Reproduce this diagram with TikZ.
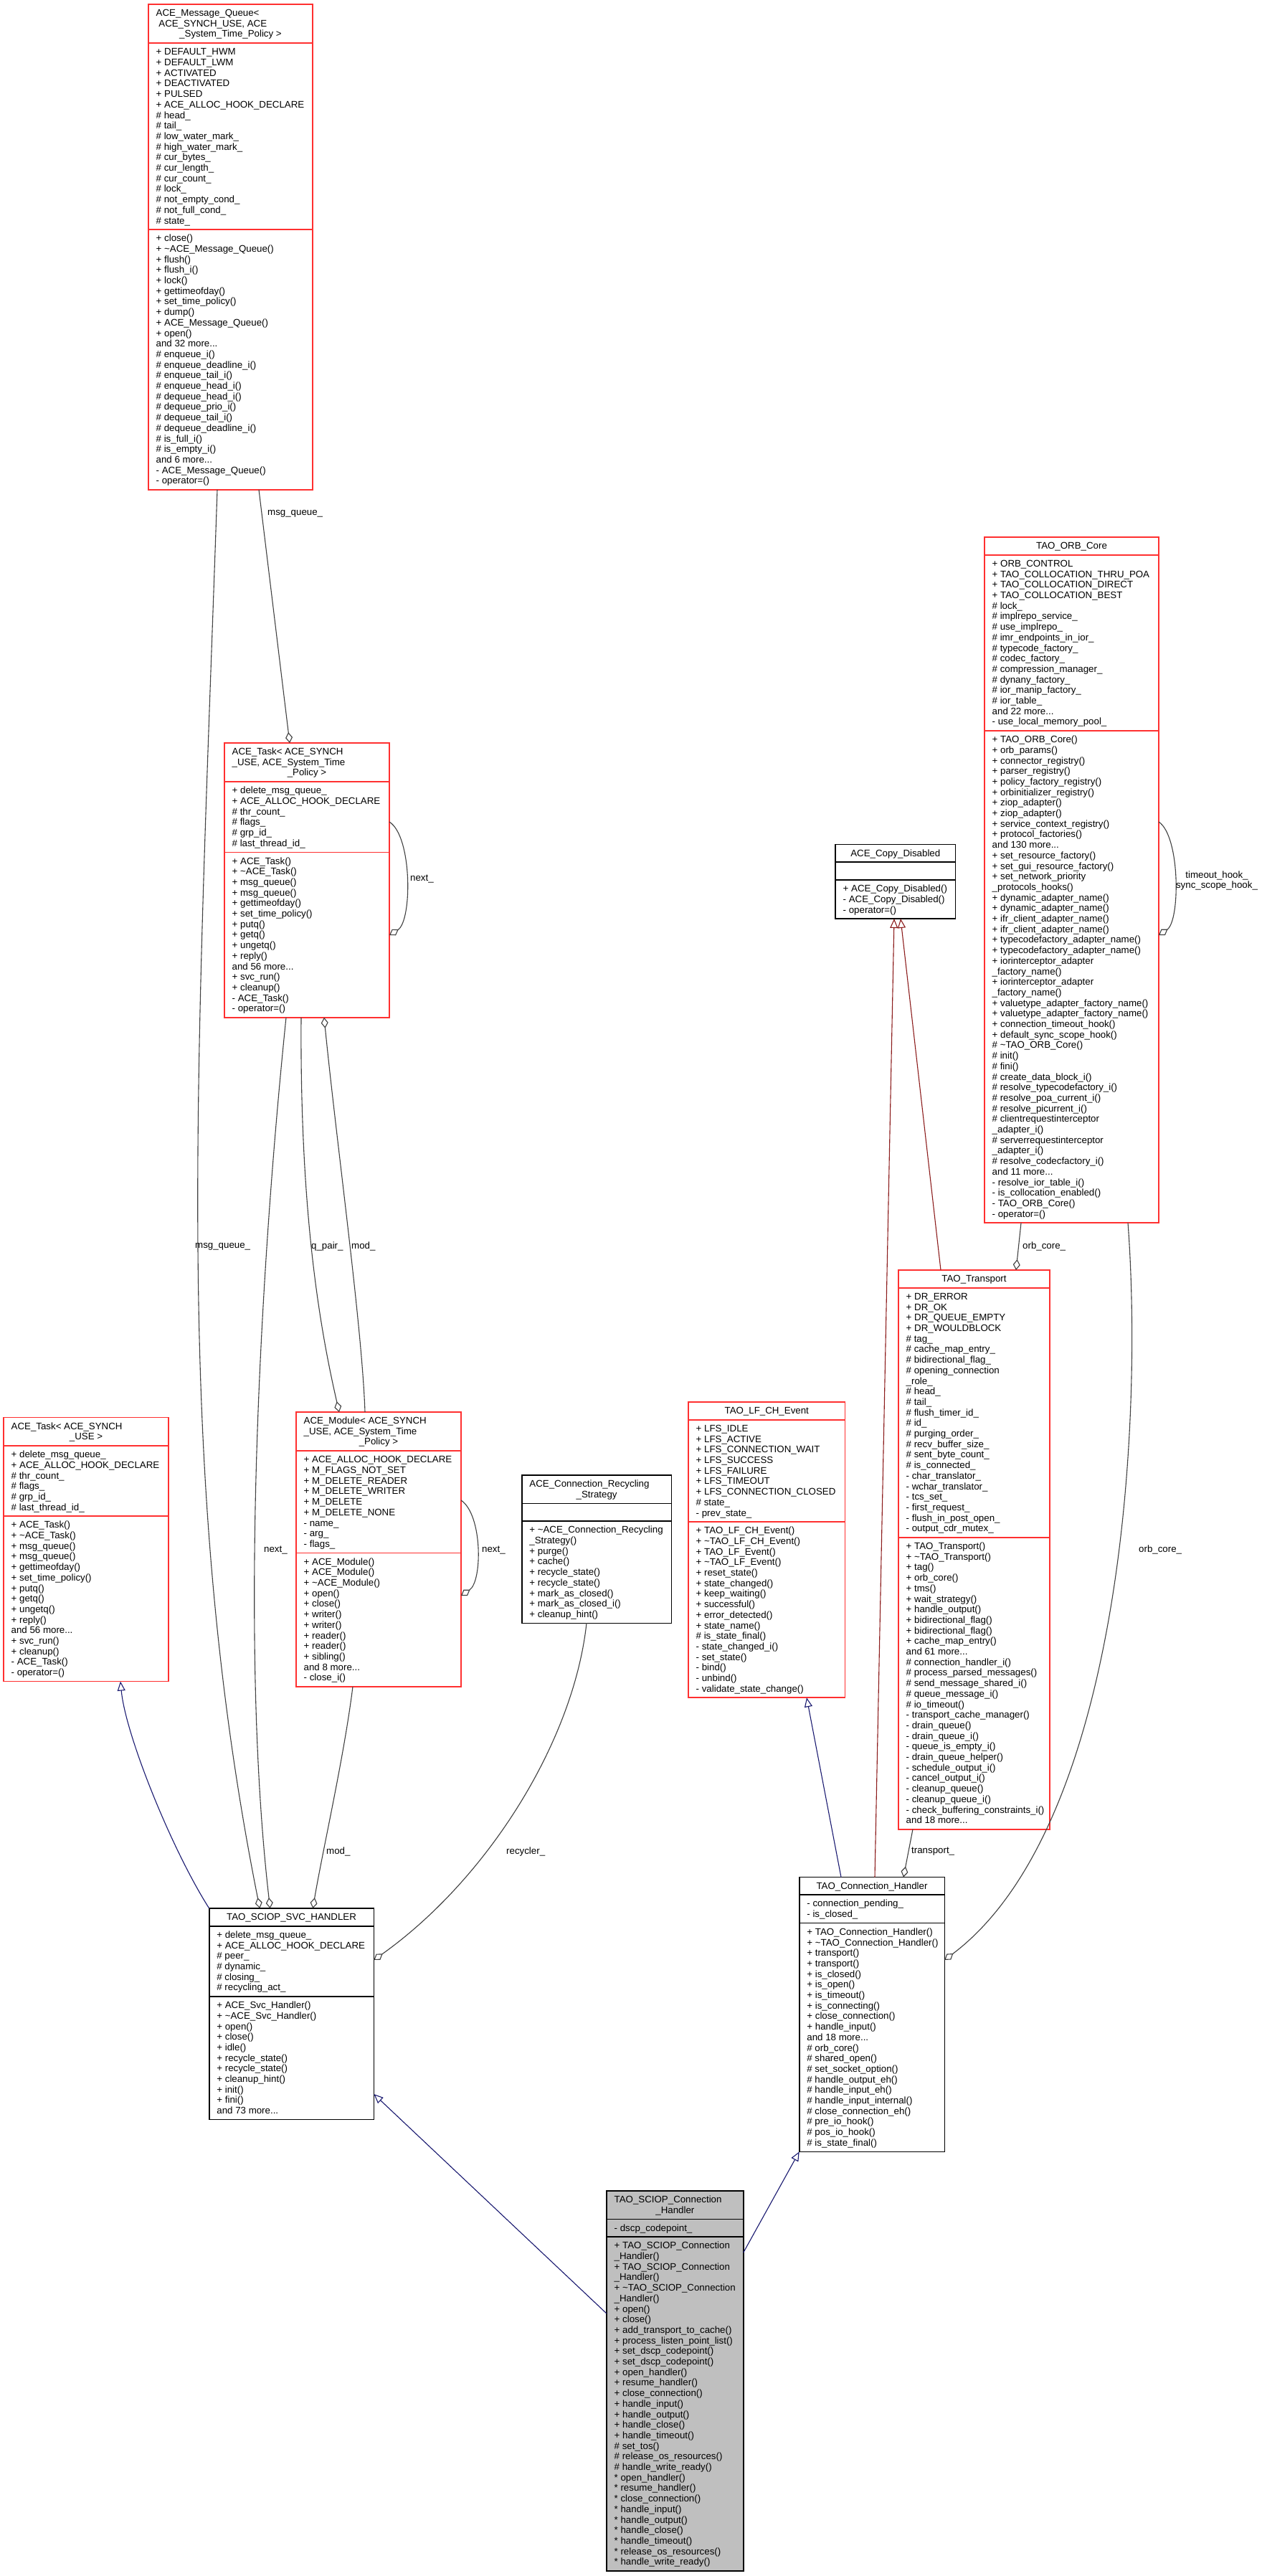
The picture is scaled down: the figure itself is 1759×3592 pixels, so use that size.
\documentclass[tikz,border=0pt]{standalone}
\usepackage{fontspec}
\setmainfont{Liberation Sans}
\usetikzlibrary{arrows.meta,calc}
\definecolor{boxred}{RGB}{255,48,48}
\definecolor{edgegray}{RGB}{64,64,64}
\definecolor{inhblue}{RGB}{25,25,112}
\definecolor{privred}{RGB}{139,26,26}
\definecolor{focusgray}{RGB}{191,191,191}
\tikzset{
  redbox/.style={draw=boxred, line width=1.6pt},
  redbox sep/.style={draw=boxred, line width=1.6pt},
  blackbox/.style={draw=black, line width=1.6pt},
  blackbox sep/.style={draw=black, line width=1.6pt},
  focusbox/.style={draw=black, fill=focusgray, line width=1.6pt},
  focusbox sep/.style={draw=black, line width=1.6pt},
  memb/.style={inner sep=0pt, align=left, font=\fontsize{13.3}{14.7}\selectfont},
  ttll/.style={inner sep=0pt, align=left, font=\fontsize{13.3}{14.7}\selectfont},
  ttlc/.style={inner sep=0pt, font=\fontsize{13.3}{14.7}\selectfont},
  lbl/.style={inner sep=0pt, font=\fontsize{13.3}{14.7}\selectfont},
  agg/.style={draw=edgegray, line width=1.1pt, -{Diamond[open, length=15pt, width=10pt]}},
  inh/.style={draw=inhblue, line width=1.1pt, -{Triangle[open, length=13pt, width=11pt]}},
  pinh/.style={draw=privred, line width=1.1pt, -{Triangle[open, length=13pt, width=11pt]}}
}
\newcommand{\tld}{\textasciitilde}
\def\umlxyw#1,#2,#3\relax{\def\ux{#1}\def\uy{#2}\def\uw{#3}}
\def\umlnnn#1,#2,#3\relax{\def\nT{#1}\def\nA{#2}\def\nM{#3}}
% name, {x,y,w}, {nT,nA,nM}, style, title-left-lines, title-last-line, attrs, methods
\newcommand{\umlbox}[8]{%
  \umlxyw#2\relax
  \umlnnn#3\relax
  \pgfmathsetmacro\hT{\nT*14.7+10}%
  \pgfmathsetmacro\hA{\nA*14.7+10}%
  \pgfmathsetmacro\hM{\nM*14.7+10}%
  \pgfmathsetmacro\hAll{\hT+\hA+\hM}%
  \pgfmathsetmacro\yA{\uy+\hT}%
  \pgfmathsetmacro\yM{\uy+\hT+\hA}%
  \pgfmathsetmacro\xC{\ux+\uw/2}%
  \pgfmathsetmacro\yL{\uy+16.5+(\nT-1)*14.7}%
  \node[#4, minimum width=\uw pt, minimum height=\hAll pt, inner sep=0pt, outer sep=0pt, anchor=north west] (#1) at (\ux,\uy) {};
  \draw[#4 sep] (\ux,\yA) -- ++(\uw,0);
  \draw[#4 sep] (\ux,\yM) -- ++(\uw,0);
  \node[ttll, anchor=north west] (#1tl) at (\ux+10.5,\uy+5) {\rule{0pt}{11.5pt}#5};
  \node[ttlc, anchor=base] (#1tc) at (\xC,\yL) {#6};
  \node[memb, anchor=north west] (#1a) at (\ux+10.5,\yA+5) {\rule{0pt}{11.5pt}#7};
  \node[memb, anchor=north west] (#1m) at (\ux+10.5,\yM+5) {\rule{0pt}{11.5pt}#8};
}
\begin{document}
\catcode`\_=12
\def\taskattrs{+ delete_msg_queue_\\+ ACE_ALLOC_HOOK_DECLARE\\\# thr_count_\\\# flags_\\\# grp_id_\\\# last_thread_id_}
\def\taskmeths{+ ACE_Task()\\+ \tld ACE_Task()\\+ msg_queue()\\+ msg_queue()\\+ gettimeofday()\\+ set_time_policy()\\+ putq()\\+ getq()\\+ ungetq()\\+ reply()\\and 56 more...\\+ svc_run()\\+ cleanup()\\- ACE_Task()\\- operator=()}
\begin{tikzpicture}[x=1pt,y=-1pt]
\useasboundingbox (0,0) rectangle (1759,3592);
\fill[white] (0,0) rectangle (1759,3592);

% ---------------- classes ----------------
\umlbox{mq}{207,6,229}{3,17,24}{redbox}
 {ACE_Message_Queue<\\\hspace*{3.7pt}ACE_SYNCH_USE, ACE}{_System_Time_Policy >}
 {+ DEFAULT_HWM\\+ DEFAULT_LWM\\+ ACTIVATED\\+ DEACTIVATED\\+ PULSED\\+ ACE_ALLOC_HOOK_DECLARE\\\# head_\\\# tail_\\\# low_water_mark_\\\# high_water_mark_\\\# cur_bytes_\\\# cur_length_\\\# cur_count_\\\# lock_\\\# not_empty_cond_\\\# not_full_cond_\\\# state_}
 {+ close()\\+ \tld ACE_Message_Queue()\\+ flush()\\+ flush_i()\\+ lock()\\+ gettimeofday()\\+ set_time_policy()\\+ dump()\\+ ACE_Message_Queue()\\+ open()\\and 32 more...\\\# enqueue_i()\\\# enqueue_deadline_i()\\\# enqueue_tail_i()\\\# enqueue_head_i()\\\# dequeue_head_i()\\\# dequeue_prio_i()\\\# dequeue_tail_i()\\\# dequeue_deadline_i()\\\# is_full_i()\\\# is_empty_i()\\and 6 more...\\- ACE_Message_Queue()\\- operator=()}

\umlbox{tt}{313,1036,230}{3,6,15}{redbox}
 {ACE_Task< ACE_SYNCH\\_USE, ACE_System_Time}{_Policy >}
 {\taskattrs}{\taskmeths}

\umlbox{orb}{1373,749,243}{1,16,46}{redbox}
 {}{TAO_ORB_Core}
 {+ ORB_CONTROL\\+ TAO_COLLOCATION_THRU_POA\\+ TAO_COLLOCATION_DIRECT\\+ TAO_COLLOCATION_BEST\\\# lock_\\\# implrepo_service_\\\# use_implrepo_\\\# imr_endpoints_in_ior_\\\# typecode_factory_\\\# codec_factory_\\\# compression_manager_\\\# dynany_factory_\\\# ior_manip_factory_\\\# ior_table_\\and 22 more...\\- use_local_memory_pool_}
 {+ TAO_ORB_Core()\\+ orb_params()\\+ connector_registry()\\+ parser_registry()\\+ policy_factory_registry()\\+ orbinitializer_registry()\\+ ziop_adapter()\\+ ziop_adapter()\\+ service_context_registry()\\+ protocol_factories()\\and 130 more...\\+ set_resource_factory()\\+ set_gui_resource_factory()\\+ set_network_priority\\_protocols_hooks()\\+ dynamic_adapter_name()\\+ dynamic_adapter_name()\\+ ifr_client_adapter_name()\\+ ifr_client_adapter_name()\\+ typecodefactory_adapter_name()\\+ typecodefactory_adapter_name()\\+ iorinterceptor_adapter\\_factory_name()\\+ iorinterceptor_adapter\\_factory_name()\\+ valuetype_adapter_factory_name()\\+ valuetype_adapter_factory_name()\\+ connection_timeout_hook()\\+ default_sync_scope_hook()\\\# \tld TAO_ORB_Core()\\\# init()\\\# fini()\\\# create_data_block_i()\\\# resolve_typecodefactory_i()\\\# resolve_poa_current_i()\\\# resolve_picurrent_i()\\\# clientrequestinterceptor\\_adapter_i()\\\# serverrequestinterceptor\\_adapter_i()\\\# resolve_codecfactory_i()\\and 11 more...\\- resolve_ior_table_i()\\- is_collocation_enabled()\\- TAO_ORB_Core()\\- operator=()}

\umlbox{cd}{1165,1177.5,167.6}{1,1,3}{blackbox}
 {}{ACE_Copy_Disabled}
 {}
 {+ ACE_Copy_Disabled()\\- ACE_Copy_Disabled()\\- operator=()}

\umlbox{rec}{727.7,2057,208.8}{2,1,9}{blackbox}
 {ACE_Connection_Recycling}{_Strategy}
 {}
 {+ \tld ACE_Connection_Recycling\\_Strategy()\\+ purge()\\+ cache()\\+ recycle_state()\\+ recycle_state()\\+ mark_as_closed()\\+ mark_as_closed_i()\\+ cleanup_hint()}

\umlbox{lf}{960,1955,218.5}{1,9,16}{redbox}
 {}{TAO_LF_CH_Event}
 {+ LFS_IDLE\\+ LFS_ACTIVE\\+ LFS_CONNECTION_WAIT\\+ LFS_SUCCESS\\+ LFS_FAILURE\\+ LFS_TIMEOUT\\+ LFS_CONNECTION_CLOSED\\\# state_\\- prev_state_}
 {+ TAO_LF_CH_Event()\\+ \tld TAO_LF_CH_Event()\\+ TAO_LF_Event()\\+ \tld TAO_LF_Event()\\+ reset_state()\\+ state_changed()\\+ keep_waiting()\\+ successful()\\+ error_detected()\\+ state_name()\\\# is_state_final()\\- state_changed_i()\\- set_state()\\- bind()\\- unbind()\\- validate_state_change()}

\umlbox{tr}{1253,1771,211}{1,23,27}{redbox}
 {}{TAO_Transport}
 {+ DR_ERROR\\+ DR_OK\\+ DR_QUEUE_EMPTY\\+ DR_WOULDBLOCK\\\# tag_\\\# cache_map_entry_\\\# bidirectional_flag_\\\# opening_connection\\_role_\\\# head_\\\# tail_\\\# flush_timer_id_\\\# id_\\\# purging_order_\\\# recv_buffer_size_\\\# sent_byte_count_\\\# is_connected_\\- char_translator_\\- wchar_translator_\\- tcs_set_\\- first_request_\\- flush_in_post_open_\\- output_cdr_mutex_}
 {+ TAO_Transport()\\+ \tld TAO_Transport()\\+ tag()\\+ orb_core()\\+ tms()\\+ wait_strategy()\\+ handle_output()\\+ bidirectional_flag()\\+ bidirectional_flag()\\+ cache_map_entry()\\and 61 more...\\\# connection_handler_i()\\\# process_parsed_messages()\\\# send_message_shared_i()\\\# queue_message_i()\\\# io_timeout()\\- transport_cache_manager()\\- drain_queue()\\- drain_queue_i()\\- queue_is_empty_i()\\- drain_queue_helper()\\- schedule_output_i()\\- cancel_output_i()\\- cleanup_queue()\\- cleanup_queue_i()\\- check_buffering_constraints_i()\\and 18 more...}

\umlbox{ta}{5,1976.5,230}{2,6,15}{redbox}
 {ACE_Task< ACE_SYNCH}{_USE >}
 {\taskattrs}{\taskmeths}

\umlbox{mod}{413,1969,230}{3,9,12}{redbox}
 {ACE_Module< ACE_SYNCH\\_USE, ACE_System_Time}{_Policy >}
 {+ ACE_ALLOC_HOOK_DECLARE\\+ M_FLAGS_NOT_SET\\+ M_DELETE_READER\\+ M_DELETE_WRITER\\+ M_DELETE\\+ M_DELETE_NONE\\- name_\\- arg_\\- flags_}
 {+ ACE_Module()\\+ ACE_Module()\\+ \tld ACE_Module()\\+ open()\\+ close()\\+ writer()\\+ writer()\\+ reader()\\+ reader()\\+ sibling()\\and 8 more...\\- close_i()}

\umlbox{svc}{291.7,2661,229.7}{1,6,11}{blackbox}
 {}{TAO_SCIOP_SVC_HANDLER}
 {+ delete_msg_queue_\\+ ACE_ALLOC_HOOK_DECLARE\\\# peer_\\\# dynamic_\\\# closing_\\\# recycling_act_}
 {+ ACE_Svc_Handler()\\+ \tld ACE_Svc_Handler()\\+ open()\\+ close()\\+ idle()\\+ recycle_state()\\+ recycle_state()\\+ cleanup_hint()\\+ init()\\+ fini()\\and 73 more...}

\umlbox{tch}{1114.7,2617.5,202.6}{1,2,21}{blackbox}
 {}{TAO_Connection_Handler}
 {- connection_pending_\\- is_closed_}
 {+ TAO_Connection_Handler()\\+ \tld TAO_Connection_Handler()\\+ transport()\\+ transport()\\+ is_closed()\\+ is_open()\\+ is_timeout()\\+ is_connecting()\\+ close_connection()\\+ handle_input()\\and 18 more...\\\# orb_core()\\\# shared_open()\\\# set_socket_option()\\\# handle_output_eh()\\\# handle_input_eh()\\\# handle_input_internal()\\\# close_connection_eh()\\\# pre_io_hook()\\\# pos_io_hook()\\\# is_state_final()}

\umlbox{sciop}{846,3055,190.7}{2,1,31}{focusbox}
 {TAO_SCIOP_Connection}{_Handler}
 {- dscp_codepoint_}
 {+ TAO_SCIOP_Connection\\_Handler()\\+ TAO_SCIOP_Connection\\_Handler()\\+ \tld TAO_SCIOP_Connection\\_Handler()\\+ open()\\+ close()\\+ add_transport_to_cache()\\+ process_listen_point_list()\\+ set_dscp_codepoint()\\+ set_dscp_codepoint()\\+ open_handler()\\+ resume_handler()\\+ close_connection()\\+ handle_input()\\+ handle_output()\\+ handle_close()\\+ handle_timeout()\\\# set_tos()\\\# release_os_resources()\\\# handle_write_ready()\\{*} open_handler()\\{*} resume_handler()\\{*} close_connection()\\{*} handle_input()\\{*} handle_output()\\{*} handle_close()\\{*} handle_timeout()\\{*} release_os_resources()\\{*} handle_write_ready()}

% ---------------- connectors ----------------
% msg_queue_ : queue -> task (system time)
\draw[agg] ($(mq.south west)+(154,0)$) -- ($(tt.north west)+(91,0)$);
% msg_queue_ : queue -> svc handler
\draw[agg] ($(mq.south west)+(96,0)$) .. controls +(-28,817) and +(-122,-611) .. ($(svc.north west)+(70.6,0)$);
% next_ : task -> svc handler
\draw[agg] ($(tt.south west)+(86,0)$) .. controls +(-39,380) and +(-41.7,-361) .. ($(svc.north west)+(85,0)$);
% next_ : task self loop
\draw[agg] ($(tt.north east)+(0,110)$) .. controls +(32,20) and +(32,-20) .. ($(tt.north east)+(0,268)$);
% q_pair_ : task -> module
\draw[agg] ($(tt.south west)+(107,0)$) .. controls +(-2,280) and +(-25,-109) .. ($(mod.north west)+(60,0)$);
% mod_ : module -> task
\draw[agg] ($(mod.north west)+(96,0)$) .. controls +(-4,-119) and +(18,180) .. ($(tt.south west)+(139,0)$);
% mod_ : module -> svc handler
\draw[agg] ($(mod.south west)+(79,0)$) .. controls +(-12,97) and +(13.7,-81) .. ($(svc.north west)+(144.6,0)$);
% next_ : module self loop
\draw[agg] ($(mod.north east)+(0,123)$) .. controls +(30,20) and +(30,-20) .. ($(mod.north east)+(0,256)$);
% recycler_ : recycling strategy -> svc handler
\draw[agg] ($(rec.south west)+(90.3,0)$) .. controls +(-18,165) and +(158.6,-113) .. ($(svc.north east)+(0,72)$);
% inheritance: svc handler -> ACE_Task
\draw[inh] (svc.north west) .. controls +(-51.7,-81) and +(7,75) .. ($(ta.south west)+(163,0)$);
% inheritance: sciop -> svc handler, sciop -> connection handler
\draw[inh] ($(sciop.north west)+(0,171)$) -- ($(svc.north east)+(0,259)$);
\draw[inh] ($(sciop.north east)+(0,86)$) -- (tch.south west);
% inheritance: connection handler -> LF event
\draw[inh] ($(tch.north west)+(58.3,0)$) -- ($(lf.south west)+(165,0)$);
% private inheritance to ACE_Copy_Disabled
\draw[pinh] ($(tch.north west)+(105.3,0)$) -- ($(cd.south west)+(82,0)$);
\draw[pinh] ($(tr.north west)+(59,0)$) -- ($(cd.south west)+(91,0)$);
% transport_
\draw[agg] ($(tr.south west)+(20,0)$) -- ($(tch.north west)+(145.3,0)$);
% orb_core_ : orb -> transport
\draw[agg] ($(orb.south west)+(51,0)$) -- ($(tr.north west)+(164,0)$);
% orb_core_ : orb -> connection handler
\draw[agg] ($(orb.south west)+(200,0)$) .. controls +(22,295) and +(242.7,-183) .. ($(tch.north east)+(0,115.5)$);
% timeout_hook_ / sync_scope_hook_ : orb self loop
\draw[agg] ($(orb.north east)+(0,397)$) .. controls +(30,20) and +(30,-20) .. ($(orb.north east)+(0,555)$);

% ---------------- connector labels ----------------
\node[lbl, anchor=west] (lq1) at (373,716) {msg_queue_};
\node[lbl, anchor=west] (lq2) at (272,1738) {msg_queue_};
\node[lbl, anchor=west] (ln1) at (572,1226) {next_};
\node[lbl, anchor=west] (ln2) at (368,2161) {next_};
\node[lbl, anchor=west] (ln3) at (672,2161) {next_};
\node[lbl, anchor=west] (lqp) at (434,1738) {q_pair_};
\node[lbl, anchor=west] (lm1) at (490,1738) {mod_};
\node[lbl, anchor=west] (lm2) at (455,2582) {mod_};
\node[lbl, anchor=west] (lrc) at (706,2582) {recycler_};
\node[lbl, anchor=west] (ltr) at (1271,2582) {transport_};
\node[lbl, anchor=west] (lo1) at (1426,1738) {orb_core_};
\node[lbl, anchor=west] (lo2) at (1588,2161) {orb_core_};
\node[lbl, align=center] (lhk) at (1697,1228) {timeout_hook_\\sync_scope_hook_};
\end{tikzpicture}
\end{document}
